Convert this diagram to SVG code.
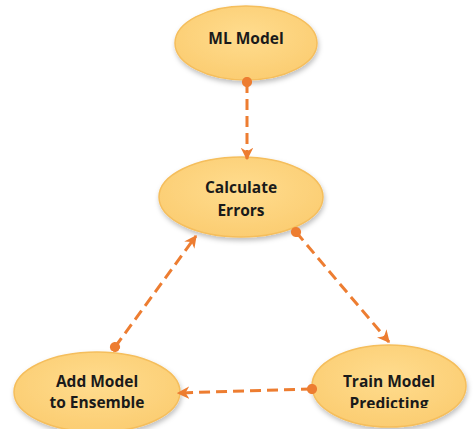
<svg xmlns="http://www.w3.org/2000/svg" width="475" height="429" viewBox="0 0 475 429">
<defs>
<radialGradient id="g" cx="50%" cy="40%" r="60%">
<stop offset="0" stop-color="#FFDC8E"/>
<stop offset="1" stop-color="#FBCD72"/>
</radialGradient>
<filter id="sh" x="-20%" y="-20%" width="140%" height="150%">
<feDropShadow dx="1" dy="3" stdDeviation="2.5" flood-color="#000" flood-opacity="0.25"/>
</filter>
<marker id="arr" viewBox="0 0 10 10" refX="9" refY="5" markerWidth="4.2" markerHeight="4.2" orient="auto" markerUnits="strokeWidth">
<path d="M0,0 L10,5 L0,10 L3,5 Z" fill="#ED7D31"/>
</marker>
<marker id="dot" viewBox="0 0 10 10" refX="5" refY="5" markerWidth="3.4" markerHeight="3.4" orient="auto" markerUnits="strokeWidth">
<circle cx="5" cy="5" r="5" fill="#ED7D31"/>
</marker>
<clipPath id="clip"><rect x="0" y="0" width="475" height="408"/></clipPath>
</defs>
<style>
.n{fill:url(#g);stroke:#F5BE5C;stroke-width:1.5;filter:url(#sh)}
.t{font-family:"Open Sans","Liberation Sans",Arial,sans-serif;font-weight:bold;font-size:15.5px;fill:#1a1a1a;text-anchor:middle}
.c{fill:none;stroke:#ED7D31;stroke-width:3;stroke-dasharray:11 6;marker-start:url(#dot);marker-end:url(#arr)}
</style>
<g id="ml-model">
<ellipse class="n" cx="246" cy="43" rx="71" ry="37"/>
<text class="t" x="246" y="44">ML Model</text>
</g>
<g id="calculate-errors">
<ellipse class="n" cx="241" cy="197" rx="82" ry="40"/>
<text class="t" x="241" y="193">Calculate</text>
<text class="t" x="241" y="216">Errors</text>
</g>
<g id="add-model">
<ellipse class="n" cx="97" cy="392" rx="83" ry="40"/>
<text class="t" x="97" y="387">Add Model</text>
<text class="t" x="97" y="408">to Ensemble</text>
</g>
<g id="train-model">
<ellipse class="n" cx="389" cy="386" rx="77" ry="41"/>
<text class="t" x="389" y="387">Train Model</text>
<text class="t" x="389" y="409" clip-path="url(#clip)">Predicting</text>
</g>
<g id="connectors">
<line class="c" x1="247" y1="82" x2="247" y2="159"/>
<line class="c" x1="296" y1="232" x2="389" y2="342"/>
<line class="c" x1="312" y1="389" x2="178" y2="393"/>
<line class="c" x1="115" y1="347" x2="196" y2="236"/>
</g>
</svg>
